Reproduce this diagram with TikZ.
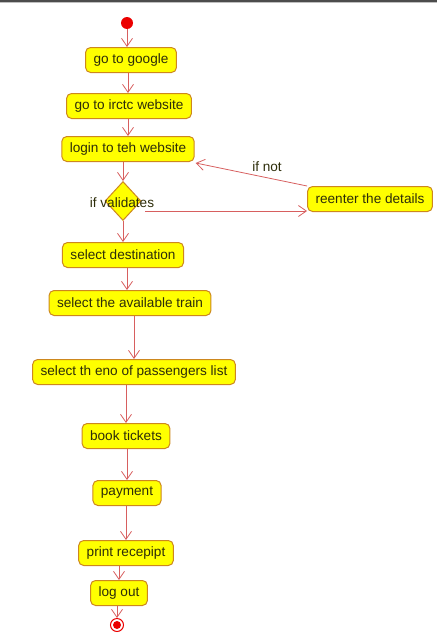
\documentclass[tikz,border=0pt]{standalone}
\usepackage{fontspec}
\setmainfont{Liberation Sans}
\usetikzlibrary{arrows.meta,shapes.geometric}
\definecolor{boxfill}{RGB}{255,255,0}
\definecolor{boxline}{RGB}{205,135,30}
\definecolor{arrline}{RGB}{215,95,95}
\definecolor{dotred}{RGB}{235,0,0}
\definecolor{txt}{RGB}{45,45,10}
\tikzset{
  act/.style={draw=boxline, fill=boxfill, line width=1pt, rounded corners=5pt,
    minimum height=25pt, inner xsep=8pt, inner ysep=0pt, text=txt,
    font=\fontsize{13.6}{15}\selectfont},
  dec/.style={draw=boxline, fill=boxfill, line width=1pt, shape=diamond,
    minimum width=36pt, minimum height=39pt, inner sep=0pt},
  arr/.style={draw=arrline, line width=0.8pt, -{Straight Barb[length=8pt,width=11pt,line width=0.8pt]}},
  lbl/.style={text=txt, font=\fontsize{13.6}{15}\selectfont, inner sep=0pt}
}
\begin{document}
\begin{tikzpicture}[x=1pt,y=-1pt]
\useasboundingbox (0,0) rectangle (437,637);
\fill[black!70] (0,0) rectangle (437,2);
\fill[black!25] (0,2) rectangle (437,3);

\node[circle, fill=dotred, minimum size=12pt, inner sep=0pt] (start) at (127,23) {};
\node[act] (google) at (131,60) {go to google};
\node[act] (irctc) at (129,106) {go to irctc website};
\node[act] (login) at (128,149) {login to teh website};
\node[dec] (dec) at (123,201) {};
\node[lbl] (ifval) at (122,203) {if validates};
\node[act] (reenter) at (370,199) {reenter the details};
\node[lbl] (ifnot) at (267,167) {if not};
\node[act] (dest) at (123,255) {select destination};
\node[act] (train) at (130,303) {select the available train};
\node[act] (pass) at (134,372) {select th eno of passengers list};
\node[act] (book) at (126,436) {book tickets};
\node[act] (pay) at (127,493) {payment};
\node[act] (print) at (126,553) {print recepipt};
\node[act] (logout) at (119,593) {log out};
\node[circle, draw=dotred, line width=1pt, fill=white, minimum size=13pt, inner sep=0pt] (end) at (117,625) {};
\fill[dotred] (end.center) circle (4pt);

\draw[arr] (start) -- (start |- google.north);
\draw[arr] (google.south -| 128,0) -- (irctc.north -| 128,0);
\draw[arr] (irctc.south -| 128,0) -- (login.north -| 128,0);
\draw[arr] (login.south -| dec) -- (dec.north);
\draw[arr] (dec.south) -- (dest.north -| dec);
\coordinate (vstart) at (145,211);
\draw[arr] (vstart) -- (reenter.west |- vstart);
\draw[arr] (reenter.north west) -- ([xshift=1pt,yshift=-1pt]login.south east);
\draw[arr] (dest.south -| 127,0) -- (train.north -| 127,0);
\draw[arr] (train.south -| 134,0) -- (pass.north -| 134,0);
\draw[arr] (pass.south -| 126,0) -- (book.north -| 126,0);
\draw[arr] (book.south -| 127,0) -- (pay.north -| 127,0);
\draw[arr] (pay.south -| 126,0) -- (print.north -| 126,0);
\draw[arr] (print.south -| 119,0) -- (logout.north -| 119,0);
\draw[arr] (logout.south -| end) -- (end.north);
\end{tikzpicture}
\end{document}
